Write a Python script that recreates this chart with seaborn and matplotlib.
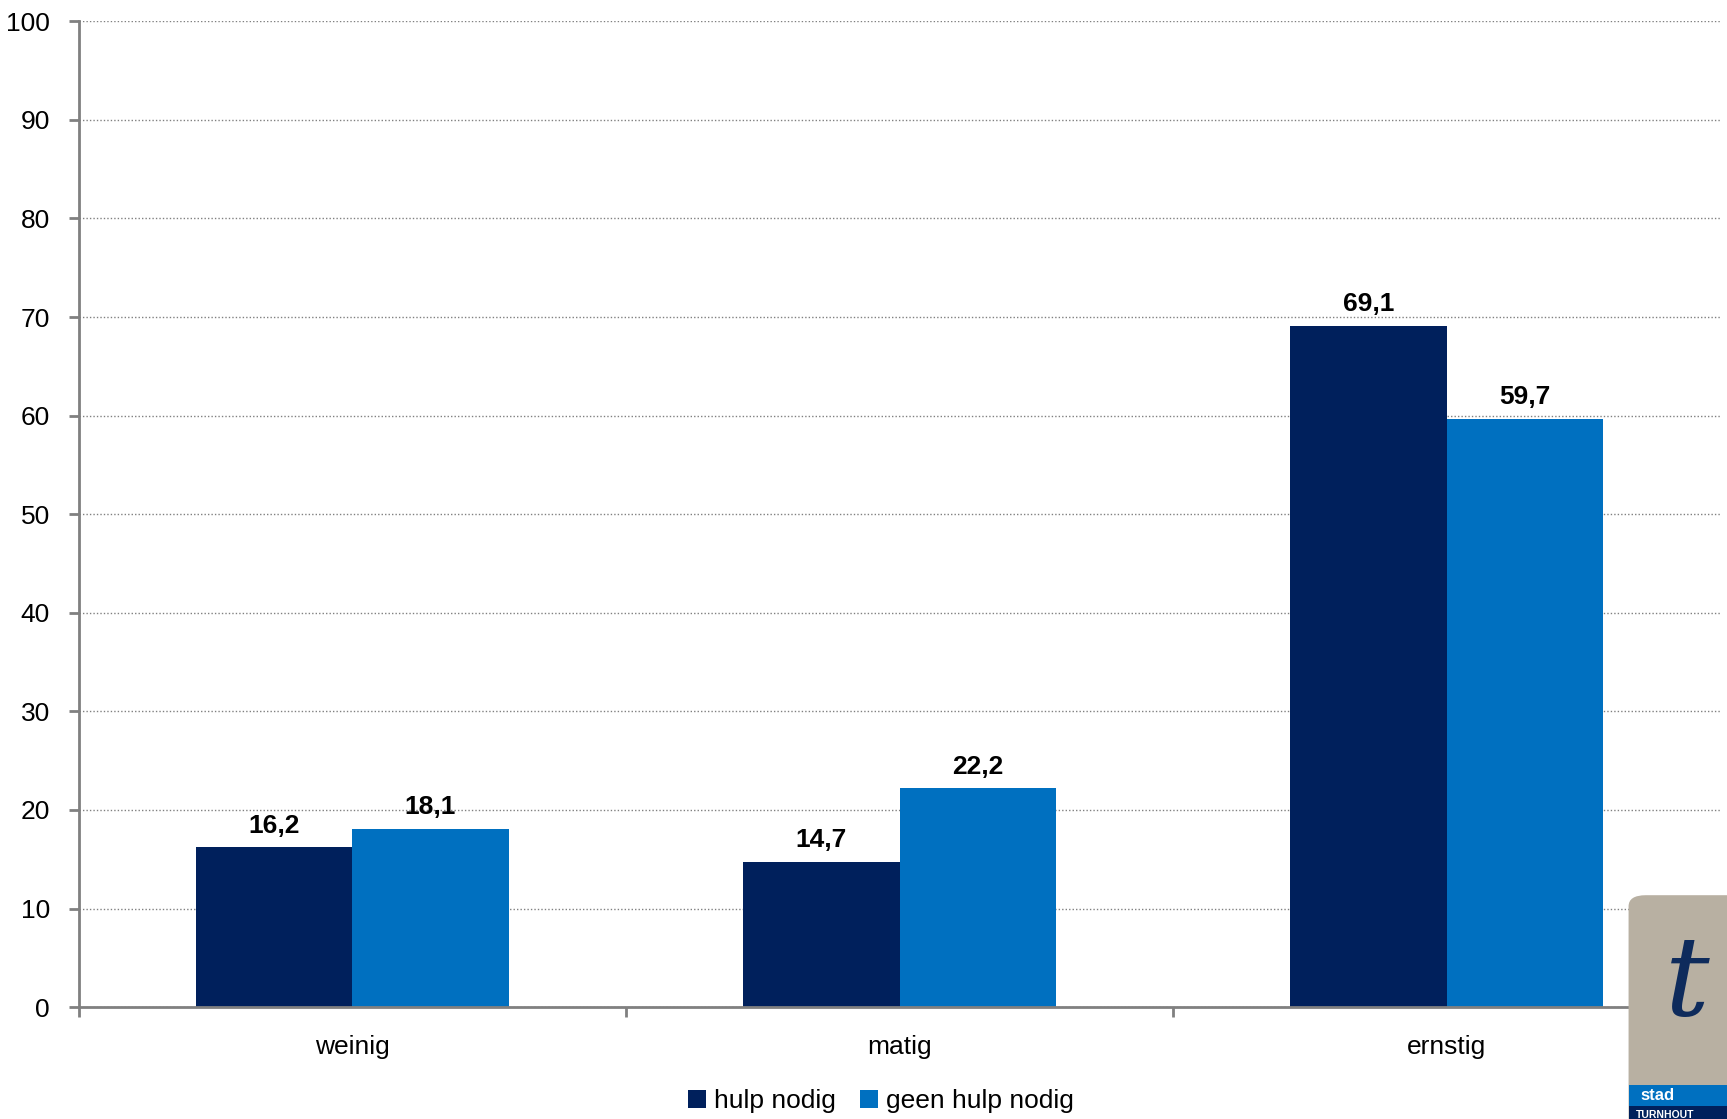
import seaborn as sns
import matplotlib.pyplot as plt
import pandas as pd
from matplotlib.patches import Patch, FancyBboxPatch, Rectangle

# Data
categories = ['weinig', 'matig', 'ernstig']
hulp_nodig = [16.2, 14.7, 69.1]
geen_hulp_nodig = [18.1, 22.2, 59.7]
series = ['hulp nodig', 'geen hulp nodig']
colors = ['#00205C', '#0070C0']

df = pd.DataFrame({
    'ernst': categories * 2,
    'groep': [series[0]] * 3 + [series[1]] * 3,
    'waarde': hulp_nodig + geen_hulp_nodig,
})

sns.set_style('white')
plt.rcParams['font.family'] = ['Liberation Sans Narrow', 'Liberation Sans', 'DejaVu Sans']
plt.rcParams['text.color'] = 'black'

fig = plt.figure(figsize=(17.27, 11.19), dpi=100)
ax = fig.add_axes([0.0457, 0.100, 0.9503, 0.881])

sns.barplot(data=df, x='ernst', y='waarde', hue='groep', order=categories,
            hue_order=series, palette=colors, saturation=1, width=0.571,
            linewidth=0, ax=ax)

# value labels with decimal comma
for cont in ax.containers:
    ax.bar_label(cont, labels=[f'{v:.1f}'.replace('.', ',') for v in cont.datavalues],
                 padding=7, fontsize=19, fontweight='bold', color='black')

ax.set_ylim(0, 100)
ax.set_xlim(-0.5, 2.5)
ax.set_yticks(range(0, 101, 10))
ax.set_xlabel('')
ax.set_ylabel('')

# grid
ax.yaxis.grid(True, linestyle=(0, (1, 1.5)), color='#808080', linewidth=1)
ax.set_axisbelow(True)

# spines
for s in ['top', 'right']:
    ax.spines[s].set_visible(False)
for s in ['left', 'bottom']:
    ax.spines[s].set_color('#808080')
    ax.spines[s].set_linewidth(2)

ax.tick_params(axis='y', direction='out', length=7, width=2, color='#808080',
               pad=14, labelsize=19, labelcolor='black', left=True)
ax.tick_params(axis='x', which='major', length=0, pad=20, labelsize=19,
               labelcolor='black')
ax.set_xticks([-0.5, 0.5, 1.5, 2.5], minor=True)
ax.tick_params(axis='x', which='minor', direction='out', length=7, width=2,
               color='#808080', bottom=True)

# legend at bottom
ax.get_legend().remove()
handles = [Patch(facecolor=c, edgecolor='none') for c in colors]
fig.legend(handles, series, loc='center', bbox_to_anchor=(0.51, 0.016), ncol=2,
           frameon=False, fontsize=19, handlelength=0.7, handleheight=0.7,
           handletextpad=0.3, columnspacing=0.9, labelcolor='black')

# logo in the corner
logo = FancyBboxPatch((0.943, -0.05), 0.1, 0.25, boxstyle='round,pad=0,rounding_size=0.01',
                      transform=fig.transFigure, facecolor='#B8B0A2', edgecolor='none',
                      zorder=5, clip_on=False)
fig.patches.append(logo)
fig.patches.append(Rectangle((0.943, 0.012), 0.06, 0.018, transform=fig.transFigure,
                             facecolor='#0070C0', edgecolor='none', zorder=6))
fig.patches.append(Rectangle((0.943, -0.01), 0.06, 0.022, transform=fig.transFigure,
                             facecolor='#00205C', edgecolor='none', zorder=6))
fig.text(0.950, 0.021, 'stad', color='white', fontsize=12, fontweight='bold',
         va='center', zorder=7, family=['Liberation Sans', 'DejaVu Sans'])
fig.text(0.947, 0.004, 'TURNHOUT', color='white', fontsize=7.5, fontweight='bold',
         va='center', zorder=7, family=['Liberation Sans', 'DejaVu Sans'])
fig.text(0.977, 0.12, 't', color='#0E2B5C', fontsize=80, style='italic',
         family='DejaVu Serif', ha='center', va='center', zorder=7)

fig.savefig('out.png', dpi=100)
